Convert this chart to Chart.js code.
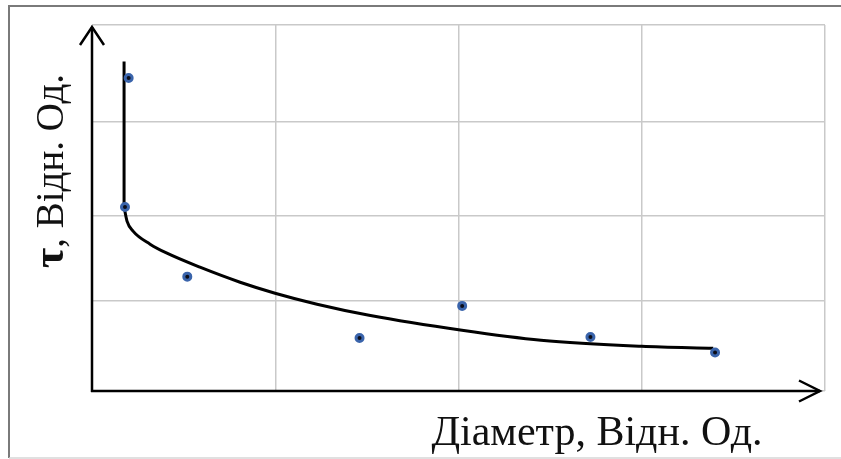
<!DOCTYPE html>
<html>
<head>
<meta charset="utf-8">
<script src="https://cdn.jsdelivr.net/npm/chart.js@4/dist/chart.umd.min.js"></script>
<style>
  html, body { margin: 0; padding: 0; background: #fff; }
  #wrap { width: 841px; height: 459px; position: relative; }
</style>
</head>
<body>
<div id="wrap"><canvas id="c"></canvas></div>
<script>
// Measured points: diameter vs. tau, both in relative units
const diameter = [0.20, 0.18, 0.52, 1.46, 2.02, 2.72, 3.40];
const tau      = [3.42, 2.01, 1.25, 0.58, 0.93, 0.59, 0.42];

// Fitted trend: steep vertical branch, then a smooth decaying curve
const branchDiameter = [0.175, 0.175];
const branchTau      = [3.60, 2.01];
const trendDiameter  = [0.175, 0.191, 0.224, 0.317, 0.409, 0.589, 0.808, 0.999, 1.228, 1.512, 2.019, 2.45, 3.00, 3.39];
const trendTau       = [2.010, 1.857, 1.747, 1.605, 1.506, 1.353, 1.189, 1.069, 0.949, 0.828, 0.664, 0.555, 0.489, 0.467];

// Grid divisions (no numeric labels are shown)
const xGrid = [0, 1, 2, 3, 4];
const yGrid = [0, 0.99, 1.92, 2.94, 4];

const xTitle = 'Діаметр, Відн. Од.';
const yTitleSymbol = 'τ';
const yTitleRest = ', Відн. Од.';

const toXY = (xs, ys) => xs.map((x, i) => ({ x, y: ys[i] }));

// Frame, axes with arrow heads and the axis titles
const decorations = {
  id: 'decorations',
  beforeDraw(chart) {
    const ctx = chart.ctx;
    ctx.save();
    ctx.fillStyle = '#fff';
    ctx.fillRect(0, 0, chart.width, chart.height);
    ctx.lineCap = 'butt';
    ctx.strokeStyle = '#7a7a7a';
    ctx.lineWidth = 2;
    ctx.beginPath();
    ctx.moveTo(9, 458); ctx.lineTo(9, 6); ctx.lineTo(chart.width, 6);
    ctx.stroke();
    ctx.strokeStyle = '#d6d6d6';
    ctx.lineWidth = 1.5;
    ctx.beginPath();
    ctx.moveTo(9, 458); ctx.lineTo(chart.width, 458);
    ctx.stroke();
    ctx.restore();
  },
  beforeDatasetsDraw(chart) {
    const { ctx, chartArea: a } = chart;
    ctx.save();
    ctx.strokeStyle = '#000';
    ctx.lineWidth = 2.5;
    ctx.lineJoin = 'miter';
    // vertical axis
    const yTip = a.top + 2;
    ctx.beginPath();
    ctx.moveTo(a.left, a.bottom + 1); ctx.lineTo(a.left, yTip);
    ctx.stroke();
    ctx.beginPath();
    ctx.moveTo(a.left - 12, yTip + 18); ctx.lineTo(a.left, yTip); ctx.lineTo(a.left + 12, yTip + 18);
    ctx.stroke();
    // horizontal axis
    const xTip = a.right - 5;
    ctx.beginPath();
    ctx.moveTo(a.left - 1, a.bottom); ctx.lineTo(xTip, a.bottom);
    ctx.stroke();
    ctx.beginPath();
    ctx.moveTo(xTip - 21, a.bottom - 10.5); ctx.lineTo(xTip, a.bottom); ctx.lineTo(xTip - 21, a.bottom + 10.5);
    ctx.stroke();
    ctx.restore();
  },
  afterDraw(chart) {
    const ctx = chart.ctx;
    ctx.save();
    ctx.fillStyle = '#111';
    ctx.textBaseline = 'alphabetic';
    // horizontal title
    ctx.font = '42px "Liberation Serif", "Times New Roman", serif';
    ctx.textAlign = 'center';
    ctx.fillText(xTitle, 597, 445);
    // vertical title, reading upwards
    ctx.translate(63, 171);
    ctx.rotate(-Math.PI / 2);
    const symFont = 'bold 44px "Liberation Serif", "Times New Roman", serif';
    const restFont = '39px "Liberation Serif", "Times New Roman", serif';
    ctx.font = symFont;
    const wSym = ctx.measureText(yTitleSymbol).width;
    ctx.font = restFont;
    const wRest = ctx.measureText(yTitleRest).width;
    const start = -(wSym + wRest) / 2;
    ctx.textAlign = 'left';
    ctx.font = symFont;
    ctx.fillText(yTitleSymbol, start, 0);
    ctx.font = restFont;
    ctx.fillText(yTitleRest, start + wSym, 0);
    ctx.restore();
  }
};

const gridStyle = { color: '#c9c9c9', lineWidth: 1.5, drawTicks: false };

new Chart(document.getElementById('c'), {
  type: 'scatter',
  data: {
    datasets: [
      {
        label: 'τ',
        data: toXY(diameter, tau),
        showLine: false,
        pointRadius: 3.5,
        pointBorderWidth: 3,
        pointBorderColor: '#3a64ab',
        pointBackgroundColor: '#0b0d18',
        order: 0
      },
      {
        label: 'branch',
        data: toXY(branchDiameter, branchTau),
        showLine: true,
        borderColor: '#000',
        borderWidth: 3,
        pointRadius: 0,
        tension: 0,
        order: 1
      },
      {
        label: 'trend',
        data: toXY(trendDiameter, trendTau),
        showLine: true,
        borderColor: '#000',
        borderWidth: 3,
        pointRadius: 0,
        cubicInterpolationMode: 'monotone',
        order: 1
      }
    ]
  },
  options: {
    responsive: true,
    maintainAspectRatio: false,
    animation: false,
    events: [],
    layout: { padding: { left: 92, right: 16, top: 25, bottom: 68 } },
    plugins: { legend: { display: false }, tooltip: { enabled: false } },
    scales: {
      x: {
        type: 'linear',
        min: xGrid[0], max: xGrid[xGrid.length - 1],
        afterBuildTicks: s => { s.ticks = xGrid.map(v => ({ value: v })); },
        ticks: { display: false },
        grid: gridStyle,
        border: { display: false }
      },
      y: {
        type: 'linear',
        min: yGrid[0], max: yGrid[yGrid.length - 1],
        afterBuildTicks: s => { s.ticks = yGrid.map(v => ({ value: v })); },
        ticks: { display: false },
        grid: gridStyle,
        border: { display: false }
      }
    }
  },
  plugins: [decorations]
});
</script>
</body>
</html>
